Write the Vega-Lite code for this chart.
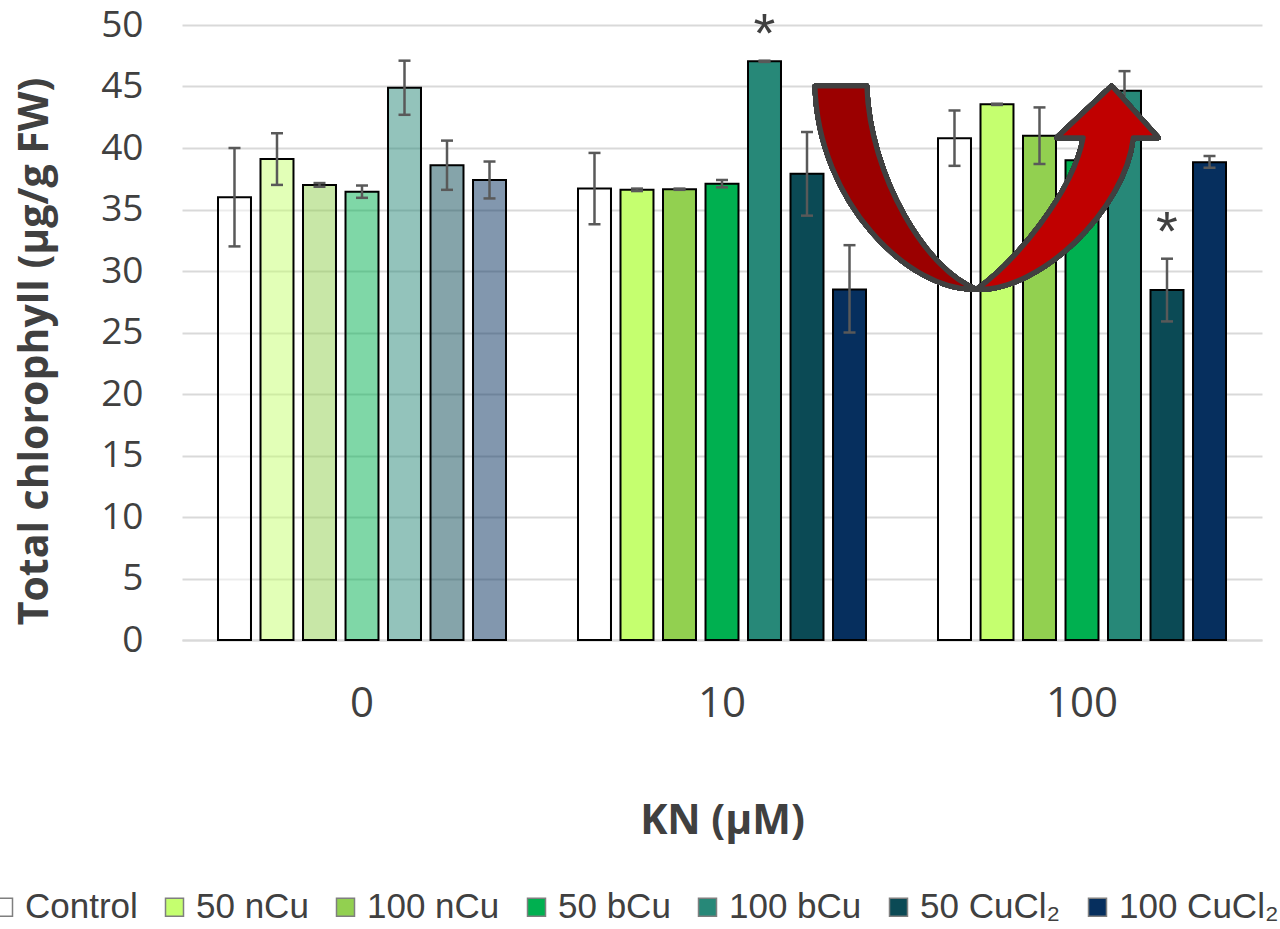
{
  "$schema": "https://vega.github.io/schema/vega-lite/v6.json",
  "width": 1080,
  "height": 615,
  "autosize": {"type": "none"},
  "padding": {"left": 182, "top": 25, "right": 18, "bottom": 289},
  "background": "white",
  "config": {"view": {"stroke": null}},
  "data": {
    "values": [
      {"kn": "0", "trt": "Control", "mean": 36.0, "lo": 32.0, "hi": 40.0, "sig": ""},
      {"kn": "0", "trt": "50 nCu", "mean": 39.1, "lo": 37.0, "hi": 41.2, "sig": ""},
      {"kn": "0", "trt": "100 nCu", "mean": 37.0, "lo": 36.85, "hi": 37.15, "sig": ""},
      {"kn": "0", "trt": "50 bCu", "mean": 36.45, "lo": 35.95, "hi": 36.95, "sig": ""},
      {"kn": "0", "trt": "100 bCu", "mean": 44.9, "lo": 42.7, "hi": 47.1, "sig": ""},
      {"kn": "0", "trt": "50 CuCl₂", "mean": 38.6, "lo": 36.6, "hi": 40.6, "sig": ""},
      {"kn": "0", "trt": "100 CuCl₂", "mean": 37.4, "lo": 35.9, "hi": 38.9, "sig": ""},
      {"kn": "10", "trt": "Control", "mean": 36.7, "lo": 33.8, "hi": 39.6, "sig": ""},
      {"kn": "10", "trt": "50 nCu", "mean": 36.6, "lo": 36.5, "hi": 36.7, "sig": ""},
      {"kn": "10", "trt": "100 nCu", "mean": 36.65, "lo": 36.6, "hi": 36.7, "sig": ""},
      {"kn": "10", "trt": "50 bCu", "mean": 37.1, "lo": 36.8, "hi": 37.4, "sig": ""},
      {"kn": "10", "trt": "100 bCu", "mean": 47.05, "lo": 47.0, "hi": 47.1, "sig": "*"},
      {"kn": "10", "trt": "50 CuCl₂", "mean": 37.9, "lo": 34.5, "hi": 41.3, "sig": ""},
      {"kn": "10", "trt": "100 CuCl₂", "mean": 28.5, "lo": 25.0, "hi": 32.1, "sig": ""},
      {"kn": "100", "trt": "Control", "mean": 40.8, "lo": 38.55, "hi": 43.05, "sig": ""},
      {"kn": "100", "trt": "50 nCu", "mean": 43.55, "lo": 43.5, "hi": 43.6, "sig": ""},
      {"kn": "100", "trt": "100 nCu", "mean": 41.0, "lo": 38.7, "hi": 43.3, "sig": ""},
      {"kn": "100", "trt": "50 bCu", "mean": 39.0, "lo": 36.9, "hi": 41.1, "sig": ""},
      {"kn": "100", "trt": "100 bCu", "mean": 44.65, "lo": 43.05, "hi": 46.25, "sig": ""},
      {"kn": "100", "trt": "50 CuCl₂", "mean": 28.45, "lo": 25.9, "hi": 31.0, "sig": "*"},
      {"kn": "100", "trt": "100 CuCl₂", "mean": 38.85, "lo": 38.4, "hi": 39.35, "sig": ""}
    ]
  },
  "encoding": {
    "x": {
      "field": "kn", "type": "nominal", "sort": ["0", "10", "100"],
      "scale": {"paddingInner": 0, "paddingOuter": 0},
      "axis": {
        "title": "KN (µM)", "labelAngle": 0, "ticks": false, "grid": false,
        "domain": true, "domainColor": "#D9D9D9", "domainWidth": 2,
        "labelFont": "Open Sans", "labelFontSize": 42, "labelColor": "#404040", "labelPadding": 43,
        "titleFont": "Open Sans", "titleFontSize": 41, "titleFontWeight": "bold", "titleColor": "#404040", "titlePadding": 77
      }
    },
    "xOffset": {
      "field": "trt", "type": "nominal",
      "sort": ["Control", "50 nCu", "100 nCu", "50 bCu", "100 bCu", "50 CuCl₂", "100 CuCl₂"],
      "scale": {"paddingInner": 0.224, "paddingOuter": 0.847}
    }
  },
  "layer": [
    {
      "mark": {"type": "bar", "stroke": "black", "strokeWidth": 2, "strokeOpacity": 1},
      "encoding": {
        "y": {
          "field": "mean", "type": "quantitative",
          "scale": {"domain": [0, 50], "nice": false},
          "axis": {
            "title": "Total chlorophyll (µg/g FW)", "values": [0, 5, 10, 15, 20, 25, 30, 35, 40, 45, 50],
            "grid": true, "gridColor": "#D9D9D9", "gridWidth": 2, "domain": false, "ticks": false,
            "labelFont": "Open Sans", "labelFontSize": 37, "labelColor": "#404040", "labelPadding": 39,
            "titleFont": "Open Sans", "titleFontSize": 41, "titleFontWeight": "bold", "titleColor": "#404040",
            "titlePadding": 44, "titleY": 326
          }
        },
        "color": {
          "field": "trt", "type": "nominal",
          "scale": {
            "domain": ["Control", "50 nCu", "100 nCu", "50 bCu", "100 bCu", "50 CuCl₂", "100 CuCl₂"],
            "range": ["#FFFFFF", "#C5FF6F", "#92D050", "#00B050", "#278878", "#0B4A55", "#062F5E"]
          },
          "legend": {
            "orient": "none", "legendX": -196, "legendY": 864.5, "direction": "horizontal", "columns": 7,
            "title": null, "padding": 0,
            "labelFont": "Liberation Sans", "labelFontSize": 35, "labelColor": "#404040", "labelLimit": 400,
            "symbolType": "square", "symbolSize": 324, "symbolStrokeColor": "#7F7F7F", "symbolStrokeWidth": 1.5,
            "symbolOpacity": 1, "labelOffset": 4, "columnPadding": 19
          }
        },
        "fillOpacity": {"condition": {"test": "datum.kn === '0'", "value": 0.5}, "value": 1}
      }
    },
    {
      "mark": {"type": "rule", "color": "#595959", "strokeWidth": 2.5},
      "encoding": {
        "y": {"field": "lo", "type": "quantitative"},
        "y2": {"field": "hi"}
      }
    },
    {
      "mark": {"type": "tick", "color": "#595959", "thickness": 2.5, "size": 12, "opacity": 1},
      "encoding": {"y": {"field": "lo", "type": "quantitative"}}
    },
    {
      "mark": {"type": "tick", "color": "#595959", "thickness": 2.5, "size": 12, "opacity": 1},
      "encoding": {"y": {"field": "hi", "type": "quantitative"}}
    },
    {
      "transform": [{"filter": "datum.sig === '*'"}],
      "mark": {"type": "text", "font": "Liberation Sans", "fontSize": 56, "color": "#404040", "baseline": "middle", "dy": -26},
      "encoding": {
        "y": {"field": "hi", "type": "quantitative"},
        "text": {"field": "sig"}
      }
    },
    {
      "mark": {
        "type": "point", "filled": true, "fill": "#9B0000", "stroke": "#404040", "strokeWidth": 5,
        "strokeJoin": "round", "opacity": 1, "size": 119025,
        "shape": "M -1.055 -0.574 L -0.755 -0.574 C -0.738 -0.05 -0.408 0.5 -0.118 0.605 C -0.508 0.62 -1.038 0.1 -1.055 -0.574 Z"
      },
      "encoding": {
        "x": {"datum": "100", "type": "nominal"},
        "xOffset": {"datum": "50 nCu", "type": "nominal"},
        "y": {"datum": 37, "type": "quantitative"}
      }
    },
    {
      "mark": {
        "type": "point", "filled": true, "fill": "#C00000", "stroke": "#404040", "strokeWidth": 5,
        "strokeJoin": "round", "opacity": 1, "size": 119025,
        "shape": "M -0.118 0.605 C 0.242 0.62 0.742 0.15 0.79 -0.274 L 0.935 -0.274 L 0.665 -0.574 L 0.346 -0.274 L 0.5 -0.274 C 0.44 0.05 0.1 0.45 -0.118 0.605 Z"
      },
      "encoding": {
        "x": {"datum": "100", "type": "nominal"},
        "xOffset": {"datum": "50 nCu", "type": "nominal"},
        "y": {"datum": 37, "type": "quantitative"}
      }
    }
  ]
}
